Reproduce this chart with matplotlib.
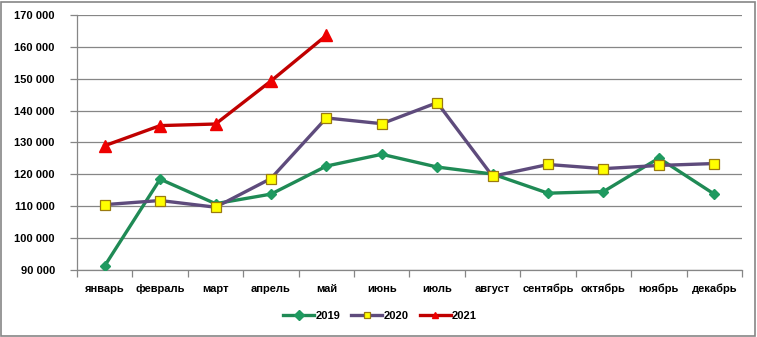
import matplotlib.pyplot as plt
from matplotlib.ticker import FuncFormatter, FixedLocator
from matplotlib.patches import Rectangle

months = ['январь', 'февраль', 'март', 'апрель', 'май', 'июнь',
          'июль', 'август', 'сентябрь', 'октябрь', 'ноябрь', 'декабрь']
y2019 = [91300, 118500, 110800, 113800, 122600, 126300,
         122300, 120100, 114100, 114600, 125100, 113800]
y2020 = [110500, 111800, 109700, 118700, 137700, 135900,
         142500, 119400, 123100, 121800, 122800, 123400]
y2021 = [129000, 135300, 135800, 149300, 163600]

plt.rcParams['font.family'] = ['Liberation Sans', 'DejaVu Sans']

fig = plt.figure(figsize=(7.57, 3.37), dpi=100)
ax = fig.add_axes([77 / 757, 1 - 270 / 337, 665 / 757, 255 / 337])

x = list(range(len(months)))
ax.plot(x, y2019, color='#1f8a55', lw=2.4, marker='D', ms=5,
        mfc='#1f9a60', mec='#1f9a60', label='2019', zorder=3)
ax.plot(x, y2020, color='#5e4b7c', lw=2.4, marker='s', ms=6.5,
        mfc='#ffff00', mec='#9a7a10', mew=0.9, label='2020', zorder=4)
ax.plot(x[:len(y2021)], y2021, color='#c00000', lw=2.4, marker='^', ms=8,
        mfc='#ee0000', mec='#ee0000', label='2021', zorder=5)

ax.set_xlim(-0.5, 11.5)
ax.set_ylim(90000, 170000)
ax.set_yticks(range(90000, 170001, 10000))
ax.yaxis.set_major_formatter(FuncFormatter(lambda v, p: f'{int(v):,}'.replace(',', ' ')))
ax.grid(axis='y', color='#868686', lw=0.9)
ax.set_axisbelow(True)

ax.xaxis.set_major_locator(FixedLocator([i - 0.5 for i in range(13)]))
ax.xaxis.set_minor_locator(FixedLocator(x))
ax.set_xticklabels([])
ax.set_xticklabels(months, minor=True)
ax.tick_params(axis='x', which='major', length=5, color='#868686', width=0.9)
ax.tick_params(axis='x', which='minor', length=0, pad=10)
ax.tick_params(axis='y', length=5, color='#868686', width=0.9, pad=11)
for lab in ax.get_xticklabels(minor=True) + ax.get_yticklabels():
    lab.set_fontsize(8)
    lab.set_fontweight('bold')

for side in ['top', 'right']:
    ax.spines[side].set_visible(False)
for side in ['left', 'bottom']:
    ax.spines[side].set_color('#868686')
    ax.spines[side].set_linewidth(0.9)

leg = fig.legend(loc='center', bbox_to_anchor=(380 / 757, 1 - 316 / 337), ncol=3,
                 frameon=False, prop={'size': 8, 'weight': 'bold'},
                 handlelength=2.8, handletextpad=0.1, columnspacing=1.0)
for h in leg.legend_handles:
    h.set_markersize(5)

fig.patches.append(Rectangle((1 / 757, 1 / 337), 754 / 757, 334 / 337,
                             transform=fig.transFigure, fill=False,
                             edgecolor='#868686', lw=1.2))

fig.savefig('out.png', dpi=100)
